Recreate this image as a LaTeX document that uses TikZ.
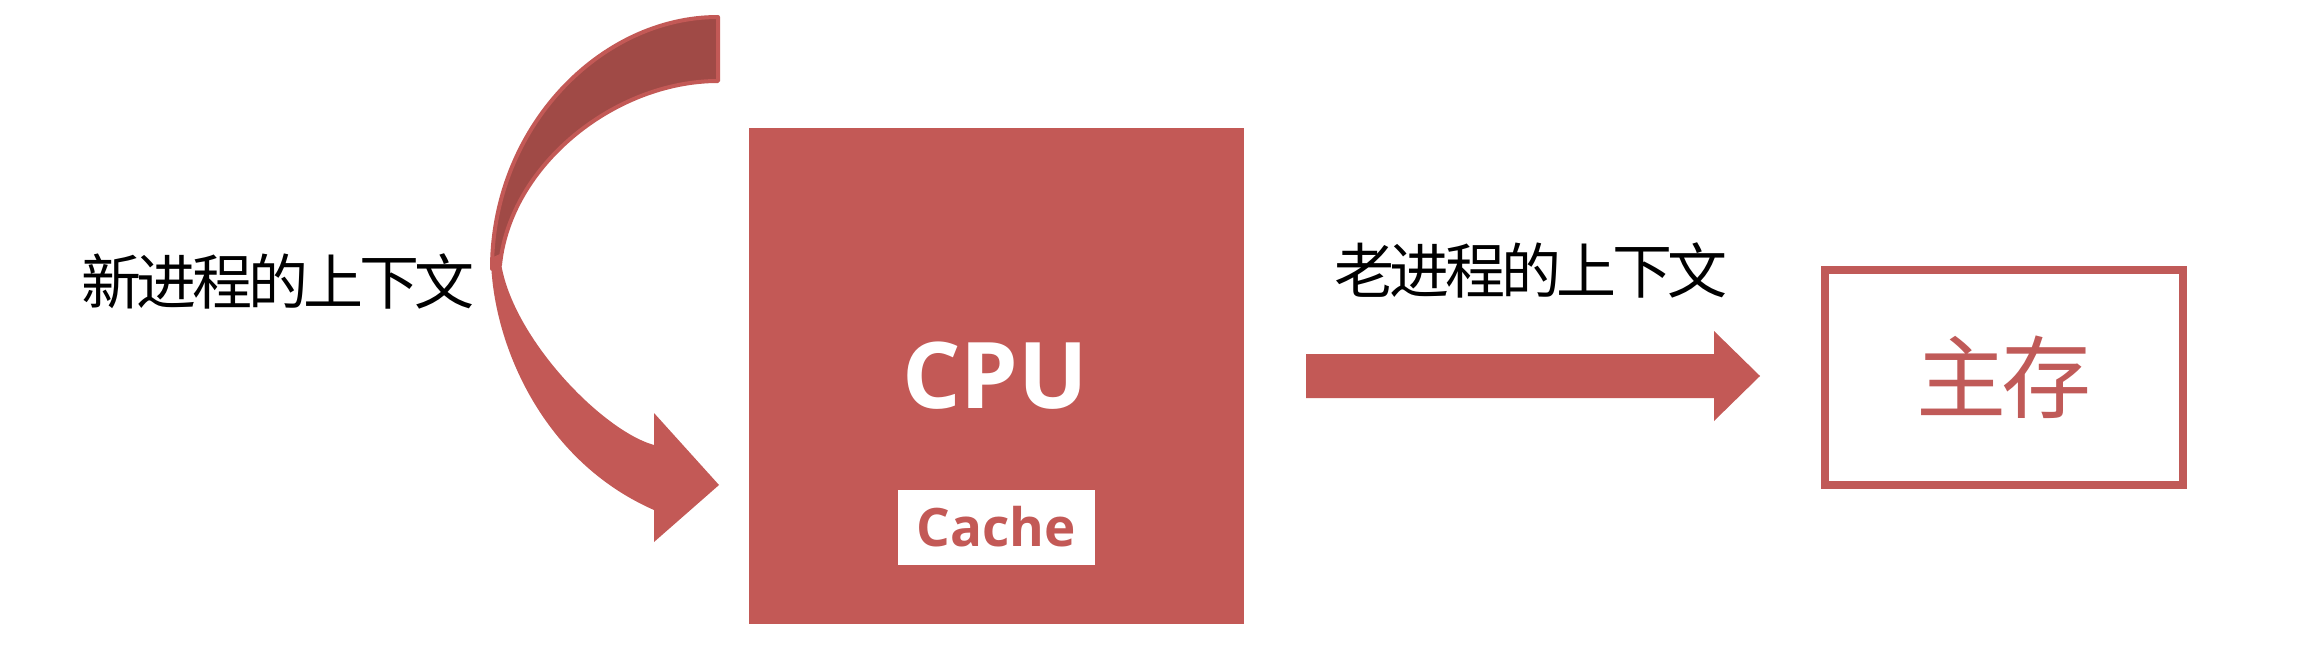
\documentclass[tikz,border=0pt]{standalone}
\usepackage{fontspec}
\usetikzlibrary{calc}
\newfontfamily\cjk{Noto Sans CJK SC}[LetterSpace=-7.3]
\newfontfamily\cjkmem{Noto Sans CJK SC}[LetterSpace=-5]
\newfontfamily\latinb{Open Sans}
\definecolor{cpured}{RGB}{195,89,86}
\definecolor{darkred}{RGB}{160,74,70}
\definecolor{memred}{RGB}{192,90,88}
\begin{document}
\begin{tikzpicture}[x=1pt,y=-1pt,
  plainbox/.style={rectangle, inner sep=0pt, outer sep=0pt},
  cjklabel/.style={inner sep=0pt, outer sep=0pt, font=\cjk\fontsize{60}{64}\selectfont},
]
\useasboundingbox (0,0) rectangle (2302,666);
\fill[white] (0,0) rectangle (2302,666);

% CPU box
\node[plainbox, fill=cpured, minimum width=495pt, minimum height=496pt] (cpu) at (996.5,376) {};
\node[inner sep=0pt, anchor=base, text=white, font=\latinb\bfseries\fontsize{92}{100}\selectfont] (cputxt) at (995,408) {CPU};
\node[plainbox, fill=white, minimum width=197pt, minimum height=75pt] (cache) at (996.5,527.5) {};
\node[inner sep=0pt, anchor=base, text=cpured, font=\latinb\bfseries\fontsize{53}{60}\selectfont] (cachetxt) at (996,546) {Cache};

% main memory box
\node[plainbox, draw=memred, line width=8pt, minimum width=358pt, minimum height=215pt] (mem) at (2004,377.5) {};
\node[inner sep=0pt, text=memred, font=\cjkmem\fontsize{90}{94}\selectfont] (memtxt) at (mem.center) {主存};

% labels
\node[cjklabel] (newctx) at (278,281) {新进程的上下文};
\node[cjklabel] (oldctx) at (1531,270) {老进程的上下文};

% straight arrow CPU -> memory
\coordinate (as) at ($(cpu.east)+(62,0)$);
\coordinate (at) at ($(mem.west)+(-65,-1.5)$);
\fill[cpured] ($(as)+(0,-22)$) -- ($(at)+(-46,-22)$) -- ($(at)+(-46,-45)$) -- (at)
  -- ($(at)+(-46,45)$) -- ($(at)+(-46,22)$) -- ($(as)+(0,22)$) -- cycle;

% curved arrow: back (upper) part
\filldraw[fill=darkred, draw=cpured, line width=4pt, line join=round]
  (718,17) .. controls (600,17) and (492,128) .. (492,269)
  -- (500,265) .. controls (510,165) and (615,81) .. (718,81) -- cycle;
% curved arrow: front (lower) part with head
\fill[cpured]
  (491,258) .. controls (492,340) and (540,460) .. (654,510)
  -- (654,542) -- (719,485) -- (654,413) -- (654,445)
  .. controls (600,430) and (505,330) .. (500,254) -- cycle;
\end{tikzpicture}
\end{document}
